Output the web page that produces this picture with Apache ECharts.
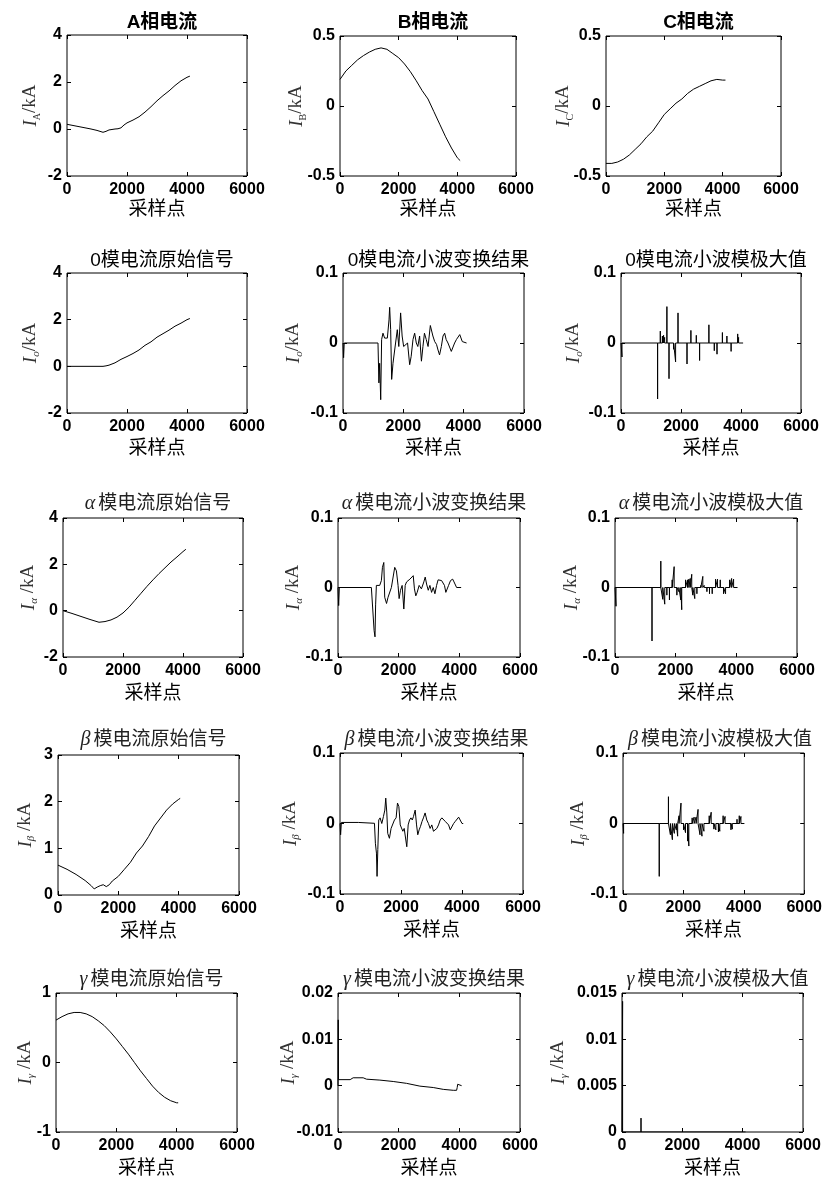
<!DOCTYPE html>
<html>
<head>
<meta charset="utf-8">
<script src="https://cdn.jsdelivr.net/npm/echarts@6/dist/echarts.min.js"></script>
<style>
  html, body { margin: 0; padding: 0; background: #fff; }
  #main { width: 825px; height: 1178px; }
</style>
</head>
<body>
<div id="main"></div>
<script>
// panel titles, row by row
const titles = [
  'A相电流', 'B相电流', 'C相电流',
  '0模电流原始信号', '0模电流小波变换结果', '0模电流小波模极大值',
  'α模电流原始信号', 'α模电流小波变换结果', 'α模电流小波模极大值',
  'β模电流原始信号', 'β模电流小波变换结果', 'β模电流小波模极大值',
  'γ模电流原始信号', 'γ模电流小波变换结果', 'γ模电流小波模极大值'
];
// subscript of I in the y label
const ySubs = ['A', 'B', 'C', 'o', 'o', 'o', 'α', 'α', 'α', 'β', 'β', 'β', 'γ', 'γ', 'γ'];
// [min, max, interval] of each y axis
const yRanges = [
  [-2, 4, 2], [-0.5, 0.5, 0.5], [-0.5, 0.5, 0.5],
  [-2, 4, 2], [-0.1, 0.1, 0.1], [-0.1, 0.1, 0.1],
  [-2, 4, 2], [-0.1, 0.1, 0.1], [-0.1, 0.1, 0.1],
  [0, 3, 1], [-0.1, 0.1, 0.1], [-0.1, 0.1, 0.1],
  [-1, 1, 1], [-0.01, 0.02, 0.01], [0, 0.015, 0.005]
];
const xTicks = [0, 6000, 2000];
const xName = '采样点';

// phase currents
const phaseA = [[0,0.2],[200,0.15],[400,0.1],[600,0.05],[800,0],[1000,-0.06],[1200,-0.14],[1300,-0.1],[1400,-0.04],[1500,-0.02],[1600,0],[1700,0.01],[1800,0.05],[1900,0.17],[2000,0.26],[2200,0.38],[2400,0.52],[2600,0.72],[2800,0.95],[3000,1.2],[3200,1.42],[3400,1.62],[3600,1.85],[3800,2.05],[4000,2.2],[4096,2.25]];
const phaseB = [[0,0.19],[200,0.25],[400,0.29],[600,0.33],[800,0.36],[1000,0.385],[1200,0.405],[1400,0.415],[1600,0.405],[1800,0.375],[2000,0.345],[2200,0.3],[2400,0.245],[2600,0.18],[2800,0.11],[3000,0.05],[3200,-0.04],[3400,-0.13],[3600,-0.22],[3800,-0.3],[4000,-0.37],[4096,-0.39]];
const phaseC = [[0,-0.41],[200,-0.41],[400,-0.4],[600,-0.38],[800,-0.35],[1000,-0.31],[1200,-0.27],[1400,-0.22],[1600,-0.18],[1800,-0.12],[2000,-0.06],[2200,-0.02],[2400,0.02],[2600,0.05],[2800,0.09],[3000,0.12],[3200,0.14],[3400,0.16],[3600,0.18],[3800,0.19],[4000,0.185],[4096,0.185]];

// 0 mode
const zeroRaw = [[0,0],[1200,0],[1300,0.02],[1400,0.05],[1600,0.15],[1800,0.3],[2000,0.42],[2200,0.55],[2400,0.7],[2600,0.9],[2800,1.05],[3000,1.25],[3200,1.4],[3400,1.55],[3600,1.72],[3800,1.85],[4000,2.0],[4096,2.05]];
const zeroWT = [[0,0],[20,-0.021],[40,0],[1160,0],[1190,-0.057],[1215,-0.029],[1250,-0.081],[1280,0.005],[1325,0.014],[1380,0.007],[1435,0.005],[1470,0.007],[1525,0.033],[1547,0.051],[1580,0.019],[1613,-0.052],[1657,-0.029],[1713,-0.01],[1760,-0.01],[1800,0.019],[1850,-0.005],[1910,0.043],[1960,0.01],[2010,-0.005],[2075,-0.007],[2140,0],[2210,-0.031],[2260,-0.019],[2320,0.005],[2375,0.014],[2430,0],[2480,-0.005],[2540,0.01],[2600,-0.026],[2650,-0.005],[2700,0.014],[2760,0.005],[2820,-0.005],[2895,0.025],[2940,0.024],[2980,0.01],[3040,0.002],[3100,-0.002],[3150,-0.01],[3200,-0.017],[3260,-0.005],[3315,0.01],[3370,0.014],[3420,0.005],[3480,0],[3530,-0.002],[3590,-0.012],[3640,-0.01],[3700,0],[3760,0.005],[3870,0.012],[3920,0.014],[3955,0.002],[4000,0],[4096,0]];
const zeroMax = [[0,0],[33,-0.02],[1220,-0.08],[1310,0.017],[1380,0.01],[1420,0.011],[1455,0.008],[1530,0.052],[1600,-0.051],[1755,-0.009],[1820,-0.027],[1900,0.043],[2200,-0.03],[2330,0.018],[2510,0.011],[2620,-0.025],[2930,0.026],[3110,-0.011],[3200,-0.016],[3380,0.015],[3530,0.01],[3670,-0.012],[3890,0.013],[3920,0.008],[4070,0]];

// alpha mode
const alphaRaw = [[0,0],[300,-0.12],[600,-0.25],[900,-0.38],[1200,-0.5],[1400,-0.47],[1600,-0.4],[1800,-0.28],[2000,-0.1],[2200,0.15],[2400,0.45],[2600,0.75],[2800,1.05],[3000,1.33],[3200,1.6],[3400,1.85],[3600,2.1],[3800,2.32],[4000,2.55],[4096,2.65]];
const alphaWT = [[0,0],[22,-0.026],[44,0],[1100,0],[1150,-0.002],[1190,-0.062],[1220,-0.071],[1240,-0.025],[1265,0.003],[1320,0.005],[1375,0.003],[1430,0.01],[1465,0.029],[1510,0.036],[1540,-0.014],[1600,-0.023],[1650,-0.014],[1707,-0.016],[1760,0],[1815,0],[1870,0.029],[1925,0.024],[1980,0.003],[2015,-0.016],[2060,-0.004],[2115,0.003],[2170,-0.031],[2215,0.003],[2260,0.008],[2310,0.01],[2370,0.012],[2420,0.01],[2480,0.017],[2520,-0.002],[2565,-0.012],[2610,-0.007],[2675,0.003],[2750,-0.002],[2830,0.008],[2875,0.015],[2920,0.005],[2975,-0.004],[3030,0.003],[3085,-0.007],[3140,0],[3195,-0.009],[3250,0.003],[3300,0.011],[3360,0.012],[3415,0.01],[3470,0.01],[3510,0.003],[3555,-0.007],[3600,-0.007],[3645,0.003],[3710,0.01],[3780,0.012],[3825,0.008],[3865,0.01],[3910,0],[4060,0]];
const alphaMax = [[0,0],[33,-0.027],[1220,-0.077],[1510,0.038],[1575,-0.017],[1640,-0.024],[1710,-0.011],[1795,-0.018],[1885,0.011],[1950,0.03],[2040,-0.011],[2105,-0.006],[2170,-0.018],[2200,-0.032],[2325,0.011],[2390,0.011],[2435,0.012],[2480,0.013],[2530,0.019],[2565,-0.011],[2630,-0.016],[2700,-0.009],[2830,0.003],[2895,0.016],[2940,0.003],[3030,-0.006],[3115,-0.009],[3205,-0.009],[3315,0.012],[3380,0.012],[3470,0.011],[3580,-0.009],[3645,-0.009],[3780,0.011],[3845,0.013],[3910,0.012],[4040,0]];

// beta mode
const betaRaw = [[0,0.64],[300,0.55],[600,0.44],[900,0.31],[1100,0.2],[1200,0.13],[1300,0.17],[1400,0.2],[1500,0.22],[1600,0.18],[1700,0.22],[1800,0.3],[2000,0.4],[2200,0.55],[2400,0.7],[2600,0.9],[2800,1.05],[3000,1.25],[3200,1.48],[3400,1.65],[3600,1.82],[3800,1.95],[4000,2.05],[4050,2.07]];
const betaWT = [[0,0],[20,-0.016],[45,0.0015],[600,0.0015],[660,0.0003],[1130,0.0003],[1160,-0.028],[1195,-0.042],[1215,-0.075],[1240,-0.037],[1270,0.005],[1315,0.008],[1370,0],[1425,0.01],[1470,0.019],[1500,0.036],[1535,0.015],[1565,-0.014],[1620,-0.021],[1675,-0.007],[1730,-0.009],[1785,0.005],[1840,0.008],[1885,0.029],[1930,0.024],[1975,-0.002],[2020,-0.004],[2060,-0.011],[2105,-0.007],[2150,-0.009],[2190,-0.033],[2235,-0.002],[2280,0.005],[2325,0.008],[2370,0.005],[2410,0.01],[2465,0.019],[2510,-0.002],[2550,-0.016],[2595,-0.009],[2640,-0.004],[2690,0.003],[2735,0.008],[2790,0.015],[2845,0.005],[2900,0],[2955,-0.007],[3010,-0.002],[3065,-0.011],[3120,-0.009],[3175,-0.007],[3230,-0.002],[3285,0.005],[3340,0.008],[3395,0.008],[3450,0.003],[3505,0.005],[3560,-0.002],[3615,-0.009],[3670,-0.007],[3725,0],[3780,0.003],[3835,0.005],[3890,0.009],[3945,0.008],[4000,0],[4040,0]];
const betaMax = [[0,0],[20,-0.014],[1200,-0.075],[1505,0.038],[1570,-0.016],[1635,-0.023],[1700,-0.014],[1765,-0.009],[1810,-0.018],[1855,0.011],[1920,0.029],[2005,-0.009],[2070,-0.013],[2140,-0.025],[2180,-0.032],[2290,0.008],[2355,0.009],[2420,0.009],[2485,0.02],[2550,-0.016],[2615,-0.018],[2680,-0.011],[2855,0.011],[2920,0.016],[3010,-0.008],[3075,-0.009],[3160,-0.012],[3205,-0.011],[3315,0.011],[3380,0.01],[3575,-0.009],[3620,-0.008],[3775,0.006],[3850,0.011],[3905,0.01],[4020,0]];

// gamma mode
const gammaRaw = [[0,0.61],[200,0.66],[400,0.7],[600,0.72],[800,0.72],[1000,0.7],[1200,0.66],[1400,0.6],[1600,0.53],[1800,0.44],[2000,0.34],[2200,0.23],[2400,0.12],[2600,0],[2800,-0.12],[3000,-0.23],[3200,-0.34],[3400,-0.43],[3600,-0.5],[3800,-0.55],[4000,-0.58],[4050,-0.58]];
const gammaWT = [[0,0],[8,0.0142],[16,0.0013],[400,0.0013],[500,0.0017],[830,0.0017],[940,0.0014],[1380,0.0012],[1820,0.0009],[2260,0.0005],[2700,-0.0001],[3140,-0.0004],[3470,-0.0008],[3800,-0.001],[3910,-0.001],[3930,-0.0004],[3945,0.0003],[4075,0]];
const gammaMax = [[0,0],[20,0.0141],[630,0.0015],[4096,0]];

// stems drawn as one polyline running along zero
function stems(list) {
  const out = [];
  list.forEach(([x, v]) => { out.push([x, 0], [x, v], [x, 0]); });
  return out;
}

const panels = [
  phaseA, phaseB, phaseC,
  zeroRaw, zeroWT, stems(zeroMax),
  alphaRaw, alphaWT, stems(alphaMax),
  betaRaw, betaWT, stems(betaMax),
  gammaRaw, gammaWT, stems(gammaMax)
];

// layout: [left, top, width, height]
const boxes = [
  [67, 35, 180, 141], [340, 36, 176, 140], [606, 36, 175, 140],
  [67, 273, 180, 140], [343, 273, 181, 140], [621, 273, 180, 140],
  [63, 518, 180, 139], [338, 518, 182, 139], [615, 518, 182, 139],
  [58, 755, 181, 140], [340, 753, 183, 141], [623, 753, 184, 141],
  [56, 993, 181, 140], [338, 993, 182, 140], [622, 993, 181, 140]
];
// distance from plot's left edge to the centre of the y label
const yDist = [40, 47, 46, 40, 53, 51, 38, 48, 47, 36, 53, 48, 34, 53, 67];
const titleTops = [8, 246, 489, 725, 965];
const xGaps = [22, 24, 25, 25, 25];

const grid = [], xAxis = [], yAxis = [], series = [], title = [];
const tickStyle = { show: true, inside: true, length: 4, lineStyle: { color: '#000', width: 1 } };
const noLine = { show: false, onZero: false };
const numLabel = { fontSize: 16, fontWeight: 'bold', fontFamily: 'Liberation Sans', color: '#000' };
const serif = 'Liberation Serif';
const yRich = {
  i: { fontFamily: serif, fontStyle: 'italic', fontSize: 19, lineHeight: 19, verticalAlign: 'top', color: '#333' },
  s: { fontFamily: serif, fontSize: 10, lineHeight: 21, verticalAlign: 'bottom', color: '#333' },
  si: { fontFamily: serif, fontStyle: 'italic', fontSize: 11, lineHeight: 21, verticalAlign: 'bottom', color: '#333' },
  n: { fontFamily: serif, fontSize: 19, lineHeight: 19, verticalAlign: 'top', color: '#333' }
};

panels.forEach((data, i) => {
  const row = Math.floor(i / 3);
  const [l, t, w, h] = boxes[i];
  const [ymin, ymax, yint] = yRanges[i];
  grid.push({ left: l, top: t, width: w, height: h, show: true, borderColor: '#000', borderWidth: 1 });

  xAxis.push({
    gridIndex: i, type: 'value', position: 'bottom',
    min: xTicks[0], max: xTicks[1], interval: xTicks[2],
    axisLine: noLine, axisTick: tickStyle, splitLine: { show: false },
    axisLabel: Object.assign({ margin: 6, formatter: v => String(v) }, numLabel),
    name: xName, nameLocation: 'middle', nameGap: xGaps[row], nameMoveOverlap: false,
    nameTextStyle: { fontFamily: 'Noto Sans CJK SC', fontSize: 19, lineHeight: 20, color: '#000' }
  });
  xAxis.push({
    gridIndex: i, type: 'value', position: 'top',
    min: xTicks[0], max: xTicks[1], interval: xTicks[2],
    axisLine: noLine, axisTick: tickStyle, splitLine: { show: false },
    axisLabel: { show: false }
  });

  const sub = ySubs[i];
  const subStyle = /[A-C]/.test(sub) ? 's' : 'si';
  const spacer = /[αβγ]/.test(sub) ? ' ' : '';
  yAxis.push({
    gridIndex: i, type: 'value', position: 'left',
    min: ymin, max: ymax, interval: yint,
    axisLine: noLine, axisTick: tickStyle, splitLine: { show: false },
    axisLabel: Object.assign({ margin: 5, formatter: v => String(Number(v.toFixed(4))) }, numLabel),
    name: `{i|I}{${subStyle}|${sub}}{n|${spacer}/kA}`,
    nameLocation: 'middle', nameRotate: 90, nameGap: yDist[i] - 15, nameMoveOverlap: false,
    nameTextStyle: { rich: yRich }
  });
  yAxis.push({
    gridIndex: i, type: 'value', position: 'right',
    min: ymin, max: ymax, interval: yint,
    axisLine: noLine, axisTick: tickStyle, splitLine: { show: false },
    axisLabel: { show: false }
  });

  series.push({
    type: 'line', xAxisIndex: 2 * i, yAxisIndex: 2 * i, data: data,
    showSymbol: false, symbol: 'none', silent: true, animation: false,
    lineStyle: { color: '#000', width: 1 }
  });

  const isGreek = /^[αβγ]/.test(titles[i]);
  title.push({
    text: titles[i].replace(/^([αβγ])/, '{g|$1}'),
    left: l + w / 2, top: titleTops[row], textAlign: 'center',
    textStyle: {
      fontFamily: 'Liberation Sans, Noto Sans CJK SC',
      fontSize: 19, lineHeight: 20,
      fontWeight: row === 0 ? 'bold' : 'normal',
      color: isGreek ? '#222' : '#000',
      rich: { g: { fontFamily: serif, fontStyle: 'italic', fontSize: 20, padding: [0, 3, 0, 0], color: '#222' } }
    }
  });
});

const chart = echarts.init(document.getElementById('main'), null, { renderer: 'canvas' });
chart.setOption({
  backgroundColor: '#fff',
  animation: false,
  title: title,
  grid: grid,
  xAxis: xAxis,
  yAxis: yAxis,
  series: series
});
</script>
</body>
</html>
